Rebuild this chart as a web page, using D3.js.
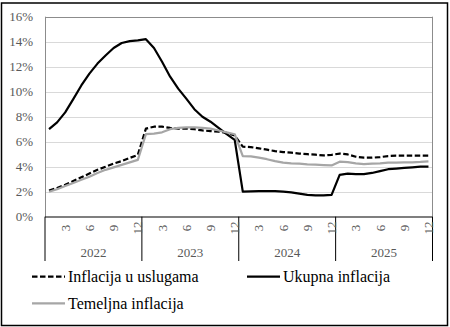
<!DOCTYPE html>
<html>
<head>
<meta charset="utf-8">
<script src="https://cdn.jsdelivr.net/npm/d3@7"></script>
<style>
  html, body { margin: 0; padding: 0; background: #fff; }
  svg { display: block; }
  text { font-family: "Liberation Serif", "Times New Roman", serif; }
</style>
</head>
<body>
<svg id="chart" width="450" height="327"></svg>
<script>
// ---- data ----
const years = ["2022", "2023", "2024", "2025"];
const monthLabels = [3, 6, 9, 12];
const yTicks = [0, 2, 4, 6, 8, 10, 12, 14, 16];
const seriesNames = ["Inflacija u uslugama", "Ukupna inflacija", "Temeljna inflacija"];

const usluge = [
  2.1, 2.3, 2.55, 2.85, 3.15, 3.45, 3.75, 4.0, 4.25, 4.45, 4.7, 4.95,
  7.05, 7.2, 7.2, 7.1, 7.05, 7.05, 7.0, 6.9, 6.85, 6.8, 6.7, 6.5,
  5.6, 5.57, 5.47, 5.36, 5.25, 5.17, 5.12, 5.05, 5.0, 4.96, 4.9, 4.95,
  5.05, 4.98, 4.8, 4.72, 4.72, 4.77, 4.85, 4.88, 4.88, 4.88, 4.88, 4.88
];
const ukupna = [
  7.0, 7.55, 8.35, 9.4, 10.5, 11.45, 12.25, 12.9, 13.5, 13.9, 14.05, 14.1,
  14.2, 13.5, 12.4, 11.2, 10.25, 9.45, 8.6, 8.0, 7.6, 7.1, 6.6, 6.15,
  2.0, 2.03, 2.05, 2.05, 2.05, 2.0, 1.95, 1.85, 1.75, 1.7, 1.7, 1.75,
  3.35, 3.45, 3.4, 3.4, 3.5, 3.65, 3.8, 3.85, 3.9, 3.95, 4.0, 4.0
];
const temeljna = [
  2.0, 2.2, 2.45, 2.7, 2.95, 3.2, 3.5, 3.75, 3.95, 4.15, 4.35, 4.55,
  6.6, 6.65, 6.75, 7.0, 7.1, 7.15, 7.15, 7.1, 7.05, 6.9, 6.75, 6.6,
  4.85, 4.83, 4.72, 4.6, 4.45, 4.32, 4.27, 4.24, 4.19, 4.16, 4.13, 4.1,
  4.4, 4.37, 4.27, 4.2, 4.24, 4.26, 4.32, 4.33, 4.34, 4.35, 4.38, 4.43
];

// ---- layout ----
const svg = d3.select("#chart");
const L = 45, R = 432.5, T = 16.7, B = 216.7;
const nMonths = years.length * 12;
const idx = d3.range(nMonths);

const x = d3.scaleBand().domain(idx).range([L, R]).padding(0);
const y = d3.scaleLinear().domain([0, 16]).range([B, T]);

// outer border
svg.append("rect").attr("x", 1.5).attr("y", 3).attr("width", 446).attr("height", 322.5)
  .attr("fill", "none").attr("stroke", "#000").attr("stroke-width", 1.5);

// gridlines
svg.append("g").selectAll("line").data(yTicks.filter(d => d > 0)).join("line")
  .attr("x1", L).attr("x2", R)
  .attr("y1", d => Math.round(y(d)) + 0.5).attr("y2", d => Math.round(y(d)) + 0.5)
  .attr("stroke", d => d === 16 ? "#8c8c8c" : "#d9d9d9").attr("stroke-width", 1);

// plot area left/right borders
svg.append("line").attr("x1", L + 0.5).attr("x2", L + 0.5).attr("y1", T).attr("y2", B)
  .attr("stroke", "#8c8c8c");
svg.append("line").attr("x1", R).attr("x2", R).attr("y1", T).attr("y2", B)
  .attr("stroke", "#8c8c8c");

// y axis labels
const yAxis = d3.axisLeft(y).tickValues(yTicks).tickSize(0).tickPadding(12)
  .tickFormat(d => d + "%");
const gy = svg.append("g").attr("transform", `translate(${L},0)`).call(yAxis);
gy.select(".domain").remove();
gy.selectAll("text").attr("font-size", 13).attr("fill", "#595959")
  .attr("font-family", "'Liberation Serif', serif");

// x axis line
svg.append("line").attr("x1", L).attr("x2", R).attr("y1", B + 0.3).attr("y2", B + 0.3)
  .attr("stroke", "#000").attr("stroke-width", 1.2);

// year separators
const sepIdx = d3.range(0, nMonths + 1, 12);
svg.append("g").selectAll("line").data(sepIdx).join("line")
  .attr("x1", d => d === nMonths ? R : x(d)).attr("x2", d => d === nMonths ? R : x(d))
  .attr("y1", B).attr("y2", 261)
  .attr("stroke", "#000").attr("stroke-width", 1);

// month tick labels (rotated)
const tickIdx = idx.filter(i => monthLabels.includes(i % 12 + 1));
svg.append("g").selectAll("text").data(tickIdx).join("text")
  .attr("transform", i => `translate(${x(i) + x.bandwidth() / 2 + 4.5},228) rotate(-90)`)
  .attr("text-anchor", "middle")
  .attr("font-size", 13).attr("fill", "#595959")
  .text(i => i % 12 + 1);

// year labels
svg.append("g").selectAll("text").data(years).join("text")
  .attr("x", (d, k) => (x(k * 12) + (k === years.length - 1 ? R : x((k + 1) * 12))) / 2)
  .attr("y", 256.5)
  .attr("text-anchor", "middle")
  .attr("font-size", 13).attr("fill", "#595959")
  .text(d => d);

// lines
const line = d3.line().x((d, i) => x(i) + x.bandwidth() / 2).y(d => y(d));
const styles = [
  { data: usluge, color: "#000", dash: "5.5,2.5", w: 2.2 },
  { data: ukupna, color: "#000", dash: null, w: 2.2 },
  { data: temeljna, color: "#a6a6a6", dash: null, w: 2.2 }
];
styles.forEach(s => {
  svg.append("path").datum(s.data)
    .attr("d", line)
    .attr("fill", "none")
    .attr("stroke", s.color)
    .attr("stroke-width", s.w)
    .attr("stroke-dasharray", s.dash)
    .attr("stroke-linejoin", "round");
});

// legend
const legendPos = [
  { x: 32, y: 276.7 },
  { x: 247, y: 276.7 },
  { x: 32, y: 303.3 }
];
seriesNames.forEach((name, k) => {
  const p = legendPos[k];
  const s = styles[k];
  svg.append("line").attr("x1", p.x).attr("x2", p.x + 33).attr("y1", p.y).attr("y2", p.y)
    .attr("stroke", s.color).attr("stroke-width", s.w).attr("stroke-dasharray", s.dash);
  svg.append("text").attr("x", p.x + 36).attr("y", p.y + 5.6)
    .attr("font-size", 16).attr("fill", "#000").text(name);
});
</script>
</body>
</html>
